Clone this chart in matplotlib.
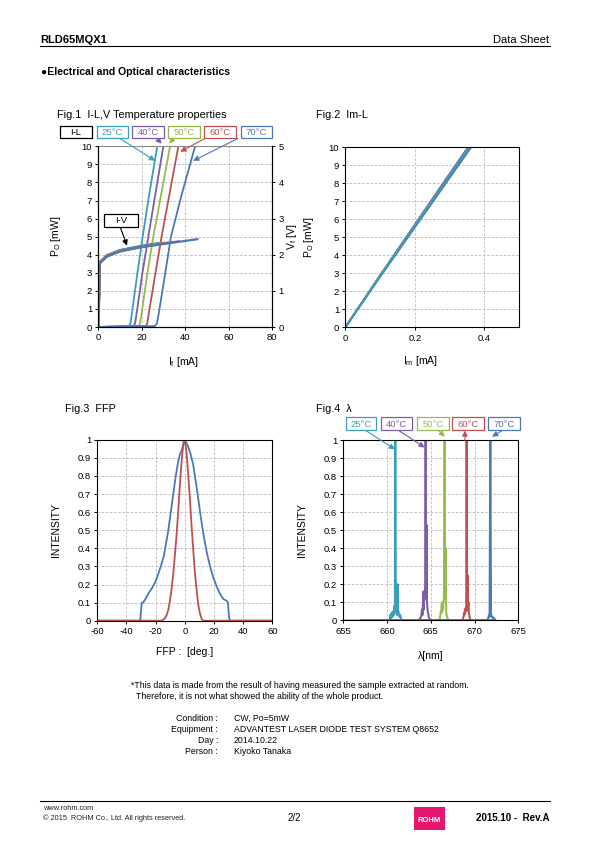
#!/usr/bin/env python3
"""
plot.py
RLD65MQX1 data sheet page 2/2: I-L,V / Im-L / FFP / spectrum charts.
"""
import matplotlib
matplotlib.use('Agg')
import matplotlib.pyplot as plt
from matplotlib.patches import Rectangle

plt.rcParams['font.family'] = ['Liberation Sans', 'DejaVu Sans']
plt.rcParams['mathtext.fontset'] = 'custom'
plt.rcParams['mathtext.rm'] = 'Liberation Sans'
plt.rcParams['mathtext.it'] = 'Liberation Sans'
plt.rcParams['axes.unicode_minus'] = False

W, H = 595, 842

TEMPS  = ['25°C', '40°C', '50°C', '60°C', '70°C']
COLORS = ['#3a9fb8', '#7b5ea7', '#96bb4c', '#c0504d', '#4a78b8']

# ---- Fig.1 I-L (mA, mW) ----
IL_I = [
    [0, 14.0, 14.8, 15.6, 18.0, 20.4, 23.5, 27.1],
    [0, 16.2, 16.9, 17.8, 20.3, 23.0, 26.3, 29.9],
    [0, 18.5, 19.2, 20.1, 22.6, 25.3, 29.0, 33.0],
    [0, 21.8, 22.5, 23.4, 26.3, 29.1, 32.8, 36.8],
    [0, 26.0, 27.0, 28.0, 30.8, 33.4, 38.5, 44.5],
]
IL_P = [0, 0.05, 0.2, 0.9, 3.0, 5.0, 7.4, 10.0]

# ---- Fig.1 I-V (mA, V) ----
IV_I = [
    [0, 0.4, 0.6, 1.0, 4.0, 10.0, 20.0, 27.5],
    [0, 0.4, 0.6, 1.0, 4.0, 10.0, 20.0, 30.0],
    [0, 0.4, 0.6, 1.0, 4.0, 10.0, 20.0, 33.5],
    [0, 0.4, 0.6, 1.0, 4.0, 10.0, 20.0, 37.0],
    [0, 0.4, 0.6, 1.0, 4.0, 10.0, 20.0, 45.5],
]
IV_V = [
    [0, 0.9, 1.79, 1.82, 1.99, 2.13, 2.25, 2.32],
    [0, 0.9, 1.78, 1.81, 1.98, 2.12, 2.24, 2.33],
    [0, 0.9, 1.77, 1.80, 1.97, 2.11, 2.23, 2.35],
    [0, 0.9, 1.76, 1.79, 1.96, 2.10, 2.22, 2.37],
    [0, 0.9, 1.75, 1.78, 1.95, 2.09, 2.21, 2.43],
]

# ---- Fig.2 Im-L ----
IM_ORDER = [1, 3, 2, 4, 0]
IM_I = [
    [0, 0.1, 0.2, 0.3, 0.356],
    [0, 0.1, 0.2, 0.3, 0.353],
    [0, 0.1, 0.2, 0.3, 0.357],
    [0, 0.1, 0.2, 0.3, 0.355],
    [0, 0.1, 0.2, 0.3, 0.362],
]
IM_P = [
    [0, 2.85, 5.65, 8.45, 10.0],
    [0, 2.88, 5.70, 8.52, 10.0],
    [0, 2.84, 5.62, 8.42, 10.0],
    [0, 2.86, 5.67, 8.48, 10.0],
    [0, 2.80, 5.55, 8.30, 10.0],
]

# ---- Fig.3 FFP ----
FFP_PAR_X = [-60, -31.0, -30.6, -29.5, -28.5, -27, -25, -22.5, -20.5, -18.5, -16.5, -14.3, -12.8,
             -11.3, -9.6, -7.9, -6.2, -4.5, -3.3, -2.2, -1.2, -0.6, 0, 1.2, 2.4, 4, 5.8, 7.5, 9.3,
             11, 12.7, 15, 17.3, 19.5, 21.8, 24, 26.4, 28.7, 29.6, 30.3, 31, 60]
FFP_PAR_Y = [0, 0, 0.0, 0.1, 0.1, 0.12, 0.15, 0.18, 0.21, 0.25, 0.3, 0.36, 0.43,
             0.5, 0.6, 0.7, 0.8, 0.88, 0.92, 0.94, 0.97, 1.0, 1.0, 0.98, 0.96, 0.92, 0.86, 0.77, 0.67,
             0.57, 0.48, 0.38, 0.3, 0.24, 0.19, 0.15, 0.12, 0.11, 0.1, 0.02, 0, 0]
FFP_PER_X = [-60, -15.9, -14, -12.5, -11.3, -10.2, -9, -7.9, -6.7, -5.6, -4.4, -3.3, -2.4, -1.5,
             -0.3, 0.5, 1.3, 2.4, 3.5, 4.6, 5.8, 6.9, 8.1, 9.2, 10.4, 11.5, 12.7, 60]
FFP_PER_Y = [0, 0, 0.01, 0.03, 0.06, 0.11, 0.18, 0.26, 0.37, 0.48, 0.62, 0.76, 0.86, 0.94,
             1.0, 0.98, 0.92, 0.8, 0.67, 0.53, 0.39, 0.27, 0.17, 0.09, 0.04, 0.01, 0, 0]

# ---- Fig.4 spectra (nm, normalised) ----
SP_WL = [
    [657.0, 660.3, 660.4, 660.45, 660.5, 660.55, 660.6, 660.65, 660.7, 660.75, 660.8, 660.86,
     660.9, 660.94, 661.0, 661.05, 661.1, 661.15, 661.2, 661.25, 661.3, 661.35, 661.4, 661.5,
     661.6, 661.7, 672.0],
    [657.0, 663.6, 663.9, 664.0, 664.05, 664.1, 664.15, 664.2, 664.25, 664.3, 664.36, 664.41,
     664.46, 664.52, 664.56, 664.6, 664.65, 664.7, 664.75, 664.85, 665.0, 672.0],
    [655.0, 666.0, 666.1, 666.15, 666.2, 666.25, 666.3, 666.35, 666.4, 666.45, 666.5, 666.58,
     666.64, 666.7, 666.76, 666.8, 666.85, 667.0, 672.0],
    [657.0, 668.6, 668.75, 668.8, 668.85, 668.9, 668.95, 669.0, 669.05, 669.1, 669.15, 669.2,
     669.25, 669.3, 669.35, 669.4, 669.45, 669.6, 672.0],
    [657.0, 671.4, 671.55, 671.6, 671.65, 671.72, 671.8, 671.88, 671.95, 672.05, 672.15,
     672.25, 672.4],
]
SP_I = [
    [0, 0, 0.03, 0.01, 0.04, 0.02, 0.045, 0.02, 0.05, 0.03, 0.05, 0.08,
     0.06, 1.0, 0.1, 0.04, 0.05, 0.03, 0.2, 0.04, 0.05, 0.03, 0.02, 0.03,
     0.01, 0, 0],
    [0, 0, 0.02, 0.06, 0.03, 0.1, 0.16, 0.06, 0.15, 0.12, 0.2, 1.0,
     0.12, 0.53, 0.1, 0.08, 0.05, 0.04, 0.02, 0.01, 0, 0],
    [0, 0, 0.03, 0.05, 0.04, 0.09, 0.05, 0.1, 0.06, 0.1, 0.12, 1.0,
     0.15, 0.4, 0.05, 0.03, 0.02, 0, 0],
    [0, 0, 0.02, 0.04, 0.03, 0.06, 0.05, 0.07, 0.05, 1.0, 0.1, 0.25,
     0.06, 0.1, 0.04, 0.03, 0.01, 0, 0],
    [0, 0, 0.01, 0.02, 0.03, 0.02, 1.0, 0.03, 0.02, 0.02, 0.01, 0.01, 0],
]

fig = plt.figure(figsize=(W / 100, H / 100), dpi=100)


def fx(x): return x / W
def fy(y): return 1 - y / H


def box(x0, y0, x1, y1, label, color, tcolor=None):
    fig.add_artist(Rectangle((fx(x0), fy(y1)), (x1 - x0) / W, (y1 - y0) / H,
                             transform=fig.transFigure, facecolor='white',
                             edgecolor=color, lw=0.9, zorder=5))
    fig.text(fx((x0 + x1) / 2), fy((y0 + y1) / 2) - 0.0005, label, color=tcolor or color,
             ha='center', va='center', fontsize=6.8, zorder=6)


def arrow(ax, tip, start, color, tip_coords='data', start_coords='figure fraction'):
    ax.annotate('', xy=tip, xycoords=tip_coords, xytext=start, textcoords=start_coords,
                arrowprops=dict(arrowstyle='-|>', color=color, lw=0.8, mutation_scale=8,
                                shrinkA=0, shrinkB=0),
                annotation_clip=False, zorder=7)


def new_ax(l, t, r, b):
    ax = fig.add_axes([fx(l), fy(b), (r - l) / W, (b - t) / H])
    ax.tick_params(direction='out', length=2.5, width=0.7, labelsize=6.8, pad=2)
    for s in ax.spines.values():
        s.set_linewidth(0.8)
    ax.grid(True, color='#b8b8b8', ls=(0, (3, 2)), lw=0.6)
    ax.set_axisbelow(True)
    return ax


GRAY_TXT = '#222222'

# ---------- page header / footer ----------
fig.text(fx(40), fy(43), 'RLD65MQX1', fontsize=8, fontweight='bold', va='baseline')
fig.text(fx(549), fy(43), 'Data Sheet', fontsize=8, ha='right', va='baseline')
fig.add_artist(plt.Line2D([fx(40), fx(550)], [fy(45.5), fy(45.5)], color='black', lw=0.8))
fig.text(fx(41), fy(75), '●Electrical and Optical characteristics', fontsize=7.5,
         fontweight='bold', va='baseline')

fig.add_artist(plt.Line2D([fx(40), fx(550)], [fy(800.5), fy(800.5)], color='black', lw=0.8))
fig.text(fx(43), fy(810), 'www.rohm.com', fontsize=5.3, va='baseline', color=GRAY_TXT)
fig.text(fx(43), fy(819.5), '© 2015  ROHM Co., Ltd. All rights reserved.', fontsize=5.3,
         va='baseline', color=GRAY_TXT)
fig.text(fx(294), fy(821), '2/2', fontsize=7, ha='center', va='baseline')
fig.add_artist(Rectangle((fx(414), fy(830)), 31 / W, 23 / H, transform=fig.transFigure,
                         facecolor='#e5166f', edgecolor='none'))
fig.text(fx(429.5), fy(820), 'ROHM', fontsize=5.5, fontweight='bold', color='white',
         ha='center', va='center')
fig.text(fx(550), fy(821), '2015.10 -  Rev.A', fontsize=7, fontweight='bold', ha='right',
         va='baseline')

# ---------- Fig.1 ----------
fig.text(fx(57), fy(117.5), 'Fig.1  I-L,V Temperature properties', fontsize=7.8, va='baseline')
ax1 = new_ax(98.3, 146.3, 272.3, 327)
for i in range(5):
    ax1.plot(IL_I[i], IL_P, color=COLORS[i], lw=1.3, solid_joinstyle='round')
ax1.set_xlim(0, 80)
ax1.set_ylim(0, 10)
ax1.set_xticks([0, 20, 40, 60, 80])
ax1.set_yticks(range(0, 11))
ax1.spines['top'].set_color('#8a8a8a')
ax1.set_xlabel('I$_\\mathrm{f}$ [mA]', fontsize=7.5)
ax1.xaxis.set_label_coords(0.487, -0.155)
ax1.set_ylabel('P$_\\mathrm{O}$ [mW]', fontsize=7.5)
ax1.yaxis.set_label_coords(-0.205, 0.5)

ax1v = ax1.twinx()
for i in range(5):
    ax1v.plot(IV_I[i], IV_V[i], color=COLORS[i], lw=1.6, solid_joinstyle='round')
ax1v.set_ylim(0, 5)
ax1v.set_yticks(range(0, 6))
ax1v.tick_params(direction='out', length=2.5, width=0.7, labelsize=6.8, pad=2)
ax1v.spines['right'].set_linewidth(0.8)
ax1v.spines['top'].set_visible(False)
ax1v.set_ylabel('V$_\\mathrm{f}$ [V]', fontsize=7.5)
ax1v.yaxis.set_label_coords(1.075, 0.5)

box(60, 126.5, 91.7, 137.5, 'I-L', 'black')
fig1_boxes = [(96.7, 128.3), (132.3, 164), (168.3, 200), (204.3, 236), (240.7, 271.7)]
for i, (x0, x1) in enumerate(fig1_boxes):
    box(x0, 125.7, x1, 138.3, TEMPS[i], COLORS[i])
fig1_arrows = [((26.1, 9.2), (120, 138.5)), ((29.2, 10.15), (156.7, 138.5)),
               ((32.6, 10.15), (173.3, 138.5)), ((37.7, 9.7), (205, 138.5)),
               ((43.6, 9.2), (238, 138.5))]
for i, (tip, (sx, sy)) in enumerate(fig1_arrows):
    arrow(ax1, tip, (fx(sx), fy(sy)), COLORS[i])
box(104, 214, 138, 226.5, 'I-V', 'black')
arrow(ax1, (13.2, 4.5), (fx(120), fy(226.5)), 'black')

# ---------- Fig.2 ----------
fig.text(fx(316), fy(117.5), 'Fig.2  Im-L', fontsize=7.8, va='baseline')
ax2 = new_ax(345.3, 147.3, 519, 327.3)
for i in IM_ORDER:
    ax2.plot(IM_I[i], IM_P[i], color=COLORS[i], lw=1.4)
ax2.set_xlim(0, 0.5)
ax2.set_ylim(0, 10)
ax2.set_xticks([0, 0.2, 0.4])
ax2.set_xticklabels(['0', '0.2', '0.4'])
ax2.set_yticks(range(0, 11))
ax2.set_xlabel('I$_\\mathrm{m}$ [mA]', fontsize=7.5)
ax2.xaxis.set_label_coords(0.43, -0.15)
ax2.set_ylabel('P$_\\mathrm{O}$ [mW]', fontsize=7.5)
ax2.yaxis.set_label_coords(-0.17, 0.5)

# ---------- Fig.3 ----------
fig.text(fx(65), fy(412), 'Fig.3  FFP', fontsize=7.8, va='baseline')
ax3 = new_ax(97.3, 439.7, 272.3, 620.7)
ax3.plot(FFP_PAR_X, FFP_PAR_Y, color='#4a78c0', lw=1.3)
ax3.plot(FFP_PER_X, FFP_PER_Y, color='#c0504d', lw=1.3)
ax3.set_xlim(-60, 60)
ax3.set_ylim(0, 1)
ax3.set_xticks(range(-60, 61, 20))
ax3.set_yticks([k / 10 for k in range(11)])
ax3.set_yticklabels(['0', '0.1', '0.2', '0.3', '0.4', '0.5', '0.6', '0.7', '0.8', '0.9', '1'])
ax3.set_xlabel('FFP :  [deg.]', fontsize=7.5)
ax3.xaxis.set_label_coords(0.5, -0.148)
ax3.set_ylabel('INTENSITY', fontsize=7.5)
ax3.yaxis.set_label_coords(-0.21, 0.5)

# ---------- Fig.4 ----------
fig.text(fx(316), fy(412), 'Fig.4  λ', fontsize=7.8, va='baseline')
ax4 = new_ax(343.3, 440.3, 518.3, 620.3)
for i in range(5):
    ax4.plot(SP_WL[i], SP_I[i], color=COLORS[i], lw=1.5)
ax4.set_xlim(655, 675)
ax4.set_ylim(0, 1)
ax4.set_xticks(range(655, 676, 5))
ax4.set_yticks([k / 10 for k in range(11)])
ax4.set_yticklabels(['0', '0.1', '0.2', '0.3', '0.4', '0.5', '0.6', '0.7', '0.8', '0.9', '1'])
ax4.set_xlabel('λ[nm]', fontsize=7.5)
ax4.xaxis.set_label_coords(0.5, -0.17)
ax4.set_ylabel('INTENSITY', fontsize=7.5)
ax4.yaxis.set_label_coords(-0.21, 0.5)

fig4_boxes = [(345.7, 375.7), (381, 412.3), (416.7, 449), (451.7, 484), (487.7, 520)]
for i, (x0, x1) in enumerate(fig4_boxes):
    box(x0, 417.3, x1, 430, TEMPS[i], COLORS[i])
arrow(ax4, (660.9, 0.95), (fx(365), fy(430)), COLORS[0])
arrow(ax4, (664.3, 0.96), (fx(398), fy(430)), COLORS[1])
arrow(ax4, (666.6, 1.02), (fx(438), fy(430)), COLORS[2])
arrow(ax4, (fx(465), fy(430.5)), (668.9, 1.0), COLORS[3],
      tip_coords='figure fraction', start_coords='data')
arrow(ax4, (672.0, 1.02), (fx(503), fy(430)), COLORS[4])

# ---------- notes ----------
fig.text(fx(131), fy(688), '*This data is made from the result of having measured the sample '
         'extracted at random.', fontsize=6.3, va='baseline')
fig.text(fx(136), fy(699), 'Therefore, it is not what showed the ability of the whole product.',
         fontsize=6.3, va='baseline')
info_keys = ['Condition :', 'Equipment :', 'Day :', 'Person :']
info_vals = ['CW, Po=5mW', 'ADVANTEST LASER DIODE TEST SYSTEM Q8652', '2014.10.22',
             'Kiyoko Tanaka']
for k, (key, val) in enumerate(zip(info_keys, info_vals)):
    yb = 721 + 11 * k
    fig.text(fx(218), fy(yb), key, fontsize=6.3, ha='right', va='baseline')
    fig.text(fx(234), fy(yb), val, fontsize=6.3, va='baseline')

plt.savefig('out.png', dpi=100)
print('Saved: out.png')
